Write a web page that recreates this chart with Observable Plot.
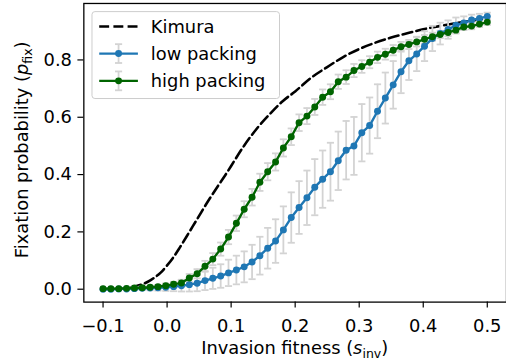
<!DOCTYPE html>
<html><head><meta charset="utf-8">
<script src="https://cdn.jsdelivr.net/npm/d3@7"></script>
<script src="https://cdn.jsdelivr.net/npm/@observablehq/plot@0.6"></script>
<style>
html,body{margin:0;padding:0;background:#fff;overflow:hidden;width:506px;height:364px;}
#chart{position:relative;width:506px;height:364px;overflow:hidden;}
svg{display:block;}
</style></head><body><div id="chart"></div>
<script>
// invasion fitness grid (50 points, -0.1 .. 0.5)
const sInv = [-0.1,-0.0878,-0.0755,-0.0633,-0.0510,-0.0388,-0.0265,-0.0143,-0.0020,0.0102,
  0.0224,0.0347,0.0469,0.0592,0.0714,0.0837,0.0959,0.1082,0.1204,0.1327,
  0.1449,0.1571,0.1694,0.1816,0.1939,0.2061,0.2184,0.2306,0.2429,0.2551,
  0.2673,0.2796,0.2918,0.3041,0.3163,0.3286,0.3408,0.3531,0.3653,0.3776,
  0.3898,0.4020,0.4143,0.4265,0.4388,0.4510,0.4633,0.4755,0.4878,0.5];
const pLow = [0.000,0.000,0.001,0.001,0.002,0.003,0.004,0.005,0.007,0.009,
  0.012,0.016,0.021,0.030,0.038,0.046,0.057,0.067,0.078,0.095,
  0.117,0.143,0.168,0.207,0.250,0.285,0.319,0.356,0.384,0.410,
  0.448,0.485,0.500,0.546,0.571,0.621,0.667,0.713,0.759,0.797,
  0.821,0.848,0.875,0.892,0.906,0.921,0.929,0.939,0.945,0.952];
const errLow = [0.002,0.002,0.003,0.004,0.005,0.006,0.008,0.010,0.013,0.016,
  0.020,0.024,0.028,0.033,0.037,0.041,0.046,0.050,0.054,0.060,
  0.066,0.071,0.076,0.082,0.088,0.092,0.095,0.098,0.100,0.101,
  0.102,0.102,0.101,0.100,0.098,0.094,0.089,0.083,0.075,0.067,
  0.060,0.052,0.044,0.038,0.032,0.027,0.023,0.019,0.016,0.013];
const pHigh = [0.002,0.002,0.002,0.003,0.004,0.005,0.007,0.009,0.012,0.017,
  0.022,0.039,0.054,0.080,0.105,0.140,0.182,0.230,0.279,0.321,
  0.373,0.410,0.444,0.493,0.532,0.581,0.604,0.636,0.670,0.689,
  0.724,0.740,0.763,0.777,0.792,0.809,0.820,0.834,0.846,0.854,
  0.863,0.872,0.881,0.889,0.896,0.904,0.915,0.918,0.925,0.932];
const errHigh = [0.002,0.002,0.002,0.003,0.003,0.004,0.005,0.006,0.007,0.009,
  0.011,0.014,0.016,0.019,0.021,0.023,0.025,0.027,0.028,0.029,
  0.030,0.030,0.030,0.030,0.029,0.029,0.028,0.028,0.027,0.026,
  0.025,0.024,0.023,0.022,0.021,0.020,0.019,0.018,0.017,0.016,
  0.016,0.015,0.014,0.013,0.013,0.012,0.011,0.011,0.010,0.010];
const kimuraS = [-0.1,-0.08,-0.06,-0.05,-0.04,-0.03,-0.02,-0.01,0.0,0.01,0.02,0.03,0.04,0.05,0.06,0.07,0.08,0.09,0.1,
  0.12,0.14,0.16,0.18,0.2,0.225,0.25,0.275,0.3,0.325,0.35,0.375,0.4,0.425,0.45,0.475,0.5];
const kimuraP = [0.0003,0.001,0.005,0.010,0.016,0.026,0.040,0.058,0.083,0.112,0.146,0.182,0.219,0.256,0.293,0.328,0.362,0.395,0.430,
  0.500,0.560,0.610,0.655,0.690,0.738,0.775,0.810,0.838,0.860,0.878,0.893,0.907,0.918,0.928,0.937,0.945];
const xTicks = [-0.1,0.0,0.1,0.2,0.3,0.4,0.5];
const yTicks = [0.0,0.2,0.4,0.6,0.8];
const legendLabels = ["Kimura","low packing","high packing"];

const C = {low:"#1f77b4", high:"#006400", err:"#d3d3d3", kim:"#000000"};
const FONT = "DejaVu Sans";
const FS = 18;

const low = sInv.map((s,i)=>({s, p:pLow[i], lo:pLow[i]-errLow[i], hi:pLow[i]+errLow[i]}));
const high = sInv.map((s,i)=>({s, p:pHigh[i], lo:pHigh[i]-errHigh[i], hi:pHigh[i]+errHigh[i]}));
const kim = kimuraS.map((s,i)=>({s, p:kimuraP[i]}));

const cap = {draw(ctx, size){const w = Math.sqrt(size/Math.PI); ctx.moveTo(-w,0); ctx.lineTo(w,0);}};

function errMarks(data){
  return [
    Plot.ruleX(data, {x:"s", y1:"lo", y2:"hi", stroke:C.err, strokeWidth:1.8}),
    Plot.dot(data, {x:"s", y:"lo", symbol:cap, r:3.6, fill:"none", stroke:C.err, strokeWidth:1.8}),
    Plot.dot(data, {x:"s", y:"hi", symbol:cap, r:3.6, fill:"none", stroke:C.err, strokeWidth:1.8})
  ];
}

const svg = Plot.plot({
  width: 510, height: 364,
  marginLeft: 84, marginRight: 0, marginTop: 3, marginBottom: 60,
  style: {fontFamily: FONT, fontSize: FS+"px", background:"#fff", color:"#000", overflow:"visible"},
  x: {domain:[-0.13,0.53]},
  y: {domain:[-0.045,0.997]},
  marks: [
    Plot.line(kim, {x:"s", y:"p", stroke:C.kim, strokeWidth:2.6, strokeDasharray:"10,4.3", curve:"monotone-x"}),
    ...errMarks(low),
    ...errMarks(high),
    Plot.line(low, {x:"s", y:"p", stroke:C.low, strokeWidth:2.4}),
    Plot.dot(low, {x:"s", y:"p", r:3.5, fill:C.low, stroke:"none"}),
    Plot.line(high, {x:"s", y:"p", stroke:C.high, strokeWidth:2.4}),
    Plot.dot(high, {x:"s", y:"p", r:3.5, fill:C.high, stroke:"none"}),
    Plot.axisX({ticks:xTicks, tickSize:6, tickPadding:11, tickFormat:d3.format(".1f"), label:null, fontSize:FS, strokeWidth:1.2}),
    Plot.axisY({ticks:yTicks, tickSize:6, tickPadding:6, tickFormat:d3.format(".1f"), label:null, fontSize:FS, strokeWidth:1.2}),
    Plot.frame({stroke:"#000", strokeWidth:1.3})
  ]
});
document.getElementById("chart").appendChild(svg);

const g = d3.select(svg).append("g").attr("font-family", FONT).attr("font-size", FS)
  .attr("fill","#000").attr("text-anchor","start");

// y label
const yl = g.append("text").attr("transform","translate(28,151) rotate(-90)").attr("text-anchor","middle");
yl.append("tspan").text("Fixation probability (");
yl.append("tspan").attr("font-style","italic").text("p");
yl.append("tspan").attr("font-size",12.6).attr("dy",4).text("fix");
yl.append("tspan").attr("dy",-4).text(")");

// x label
const xl = g.append("text").attr("x",297).attr("y",357).attr("text-anchor","middle");
xl.append("tspan").text("Invasion fitness (");
xl.append("tspan").attr("font-style","italic").text("s");
xl.append("tspan").attr("font-size",12.6).attr("dy",4).text("inv");
xl.append("tspan").attr("dy",-4).text(")");

// legend
const lg = g.append("g");
lg.append("rect").attr("x",92.7).attr("y",11.7).attr("width",189).attr("height",87.6).attr("rx",3)
  .style("fill","#ffffff").style("fill-opacity",0.8).style("stroke","#cccccc").style("stroke-width",1);
const rows = [26.7, 54, 81.5];
const hx0 = 100, hx1 = 139, hxm = 119.5;
lg.append("line").attr("x1",hx0).attr("x2",hx1).attr("y1",rows[0]).attr("y2",rows[0])
  .attr("stroke",C.kim).attr("stroke-width",2.6).attr("stroke-dasharray","10,4.3");
[[C.low,rows[1]],[C.high,rows[2]]].forEach(([col,y])=>{
  lg.append("line").attr("x1",hxm).attr("x2",hxm).attr("y1",y-9.5).attr("y2",y+9.5).attr("stroke",C.err).attr("stroke-width",1.8);
  lg.append("line").attr("x1",hxm-3.6).attr("x2",hxm+3.6).attr("y1",y-9.5).attr("y2",y-9.5).attr("stroke",C.err).attr("stroke-width",1.8);
  lg.append("line").attr("x1",hxm-3.6).attr("x2",hxm+3.6).attr("y1",y+9.5).attr("y2",y+9.5).attr("stroke",C.err).attr("stroke-width",1.8);
  lg.append("line").attr("x1",hx0).attr("x2",hx1).attr("y1",y).attr("y2",y).attr("stroke",col).attr("stroke-width",2.4);
  lg.append("circle").attr("cx",hxm).attr("cy",y).attr("r",3.5).attr("fill",col);
});
legendLabels.forEach((t,i)=>{
  lg.append("text").attr("x",152).attr("y",rows[i]+6.5).attr("text-anchor","start").text(t);
});
</script>
</body></html>
